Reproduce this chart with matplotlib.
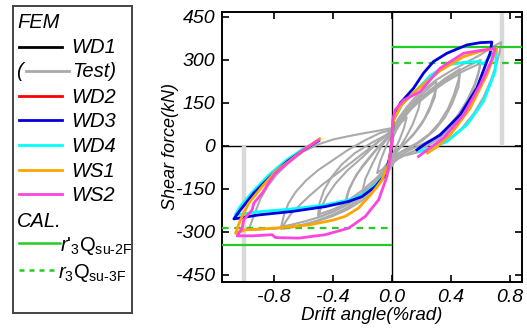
import matplotlib
matplotlib.use("Agg")
import matplotlib.pyplot as plt

plt.rcParams['font.family'] = ['Liberation Sans', 'DejaVu Sans']
plt.rcParams['mathtext.fontset'] = 'custom'
plt.rcParams['mathtext.rm'] = 'Liberation Sans'
plt.rcParams['mathtext.it'] = 'Liberation Sans:italic'
plt.rcParams['axes.unicode_minus'] = False

# FEM analysis results (drift angle %rad, shear force kN)
wd3_drift = [-0.496, -0.597, -0.709, -0.822, -0.935, -1.025, -1.070, -0.901, -0.676, -0.451,
             -0.293, -0.203, -0.113, -0.045, -0.015, 0.0, 0.011, 0.056, 0.146, 0.214, 0.281,
             0.372, 0.507, 0.597, 0.676, 0.664, 0.642, 0.574, 0.461, 0.326, 0.214, 0.169]
wd3_shear = [18, -14, -55, -107, -165, -223, -255, -241, -229, -212,
             -194, -177, -142, -101, -40, 20, 91, 149, 201, 254, 294,
             323, 352, 360, 362, 323, 294, 201, 108, 38, 3, -14]

wd4_drift = [-0.505, -0.605, -0.715, -0.830, -0.942, -1.032, -1.060, -0.901, -0.676, -0.451,
             -0.270, -0.190, -0.110, -0.045, -0.015, 0.0, 0.011, 0.070, 0.146, 0.214, 0.259,
             0.372, 0.484, 0.585, 0.620, 0.660, 0.709, 0.698, 0.619, 0.507, 0.372, 0.250, 0.180]
wd4_shear = [15, -12, -50, -100, -160, -215, -241, -230, -220, -206,
             -186, -168, -135, -98, -40, 20, 91, 145, 184, 220, 245,
             282, 291, 294, 285, 310, 340, 259, 155, 73, 15, -10, -20]

ws1_drift = [-0.489, -0.590, -0.700, -0.789, -0.878, -0.969, -1.025, -1.059, -0.991, -0.789,
             -0.564, -0.405, -0.316, -0.226, -0.135, -0.068, -0.020, 0.0, 0.011, 0.060, 0.146,
             0.214, 0.326, 0.484, 0.600, 0.709, 0.642, 0.529, 0.394, 0.300, 0.240]
ws1_shear = [25, -10, -55, -90, -142, -200, -258, -305, -293, -287,
             -276, -260, -246, -217, -165, -119, -60, 20, 90, 140, 185,
             215, 262, 311, 330, 340, 248, 131, 38, -5, -25]

ws2_drift = [-0.496, -0.597, -0.709, -0.789, -0.822, -0.878, -0.935, -0.946, -1.003, -1.014,
             -1.047, -0.946, -0.811, -0.789, -0.631, -0.451, -0.293, -0.180, -0.090, -0.034,
             -0.011, 0.0, 0.005, 0.022, 0.080, 0.191, 0.326, 0.484, 0.600, 0.698, 0.676, 0.597,
             0.484, 0.349, 0.250, 0.180]
ws2_shear = [20, -14, -61, -95, -119, -165, -200, -223, -258, -287,
             -314, -314, -310, -320, -322, -310, -287, -246, -188, -107,
             -37, 20, 91, 126, 160, 189, 271, 323, 333, 340, 300, 213,
             108, 27, -10, -37]

# test hysteresis, one sublist per cycle
test_drift = [
    [0, 0.03, 0.06, 0.1, 0.08, 0.05, 0.02, 0, -0.03, -0.06, -0.1, -0.08, -0.05, -0.02, 0],
    [0, 0.05, 0.1, 0.15, 0.2, 0.18, 0.14, 0.09, 0.04, 0, -0.05, -0.1, -0.15, -0.2,
     -0.18, -0.13, -0.07, 0],
    [0, 0.05, 0.1, 0.15, 0.2, 0.3, 0.29, 0.26, 0.22, 0.16, 0.1, 0.04, 0, -0.05, -0.1, -0.2,
     -0.32, -0.3, -0.26, -0.2, -0.12, -0.05, 0],
    [0, 0.05, 0.1, 0.15, 0.2, 0.3, 0.29, 0.25, 0.2, 0.14, 0.08, 0.02, 0, -0.05, -0.1, -0.2,
     -0.31, -0.29, -0.24, -0.17, -0.1, -0.04, 0],
    [0, 0.05, 0.1, 0.18, 0.26, 0.36, 0.46, 0.45, 0.42, 0.38, 0.32, 0.25, 0.17, 0.08, 0.02, 0,
     -0.05, -0.1, -0.2, -0.3, -0.4, -0.5, -0.48, -0.44, -0.38, -0.3, -0.2, -0.1, 0],
    [0, 0.05, 0.1, 0.18, 0.26, 0.36, 0.46, 0.45, 0.41, 0.36, 0.29, 0.21, 0.13, 0.05, 0,
     -0.05, -0.1, -0.2, -0.3, -0.4, -0.5, -0.49, -0.46, -0.41, -0.34, -0.25, -0.14, -0.05, 0],
    [0, 0.05, 0.1, 0.2, 0.3, 0.4, 0.5, 0.6, 0.59, 0.56, 0.51, 0.45, 0.38, 0.3, 0.2, 0.1,
     0.03, 0, -0.05, -0.1, -0.2, -0.3, -0.4, -0.5, -0.6, -0.68, -0.75, -0.72, -0.68, -0.62,
     -0.56, -0.47, -0.38, -0.28, -0.18, -0.08, 0],
    [0, 0.05, 0.1, 0.2, 0.3, 0.4, 0.5, 0.6, 0.58, 0.54, 0.48, 0.41, 0.33, 0.24, 0.14, 0.06,
     0, -0.05, -0.1, -0.2, -0.3, -0.4, -0.5, -0.6, -0.68, -0.75, -0.73, -0.7, -0.65, -0.58,
     -0.5, -0.4, -0.3, -0.18, -0.08, 0],
    [0, 0.05, 0.1, 0.15, 0.2, 0.3, 0.4, 0.5, 0.6, 0.68, 0.74, 0.73, 0.71, 0.67, 0.62, 0.55,
     0.47, 0.38, 0.28, 0.18, 0.08, 0.02, 0, -0.05, -0.1, -0.2, -0.3, -0.4, -0.5, -0.6, -0.7,
     -0.8, -0.9, -0.97, -0.95, -0.92, -0.89, -0.84, -0.78, -0.7, -0.6, -0.5, -0.4, -0.3,
     -0.2, -0.1, 0],
]
test_shear = [
    [20, 55, 80, 100, 60, 20, -15, -35, -60, -80, -95, -55, -15, 20, 40],
    [40, 90, 125, 155, 180, 130, 75, 25, -15, -45, -90, -120, -145, -160, -115, -60, 0, 45],
    [50, 85, 120, 150, 180, 225, 185, 140, 95, 50, 15, -15, -45, -90, -120, -165, -205,
     -165, -120, -70, -20, 20, 45],
    [45, 80, 110, 140, 168, 210, 170, 120, 75, 35, 5, -20, -40, -80, -110, -155, -195,
     -150, -100, -55, -10, 25, 45],
    [55, 90, 120, 160, 195, 235, 268, 230, 180, 130, 80, 40, 10, -15, -35, -60, -100, -130,
     -170, -205, -230, -250, -215, -175, -130, -85, -40, 10, 55],
    [52, 85, 115, 152, 185, 222, 252, 205, 150, 100, 55, 20, -5, -25, -55, -95, -125, -165,
     -198, -222, -240, -200, -155, -110, -65, -25, 10, 35, 52],
    [58, 95, 125, 170, 210, 245, 275, 300, 265, 215, 160, 110, 65, 30, 5, -20, -40, -65,
     -105, -135, -180, -215, -240, -260, -275, -285, -290, -265, -235, -205, -175, -135,
     -100, -60, -20, 20, 50],
    [56, 92, 122, 165, 203, 238, 265, 288, 240, 180, 120, 70, 30, 0, -20, -38, -62, -100,
     -130, -172, -205, -230, -250, -265, -275, -282, -240, -200, -160, -120, -85, -50, -15,
     20, 45, 56],
    [60, 100, 135, 165, 190, 230, 262, 290, 318, 345, 362, 330, 290, 230, 170, 110, 60, 20,
     -5, -22, -35, -50, -70, -110, -145, -190, -222, -245, -262, -275, -284, -289, -292,
     -293, -265, -225, -185, -140, -100, -60, -20, 5, 22, 33, 43, 52, 62],
]

# calculated strengths and test maximum drifts
q_su_2f = 345
q_su_3f = 288
test_max_drift = [0.743, -0.998]

x_min, x_max = -1.15, 0.88
y_min, y_max = -475, 467

fig = plt.figure(figsize=(5.27, 3.33), dpi=100)
ax = fig.add_axes([0.4213, 0.1532, 0.5692, 0.8108])

for xs, ys in zip(test_drift, test_shear):
    ax.plot(xs, ys, color='#aaaaaa', lw=1.5, zorder=2)

ax.axhline(0, color='black', lw=1.0, zorder=1)
ax.axvline(0, color='black', lw=1.0, zorder=1)

ax.vlines(test_max_drift[0], 0, y_max, color='#d9d9d9', lw=3.2, zorder=1.5)
ax.vlines(test_max_drift[1], y_min, 0, color='#d9d9d9', lw=3.2, zorder=1.5)

ax.hlines(q_su_2f, 0, x_max, color='#22cc22', lw=1.6, zorder=3)
ax.hlines(-q_su_2f, x_min, 0, color='#22cc22', lw=1.6, zorder=3)
ax.hlines(q_su_3f, 0, x_max, color='#22cc22', lw=1.6, ls=(0, (3, 2.5)), zorder=3)
ax.hlines(-q_su_3f, x_min, 0, color='#22cc22', lw=1.6, ls=(0, (3, 2.5)), zorder=3)

ax.plot(wd4_drift, wd4_shear, color='cyan', lw=2.0, zorder=4)
ax.plot(wd3_drift, wd3_shear, color='#0000dd', lw=2.0, zorder=5)
ax.plot(ws1_drift, ws1_shear, color='orange', lw=2.0, zorder=6)
ax.plot(ws2_drift, ws2_shear, color='#ff44dd', lw=2.0, zorder=7)

ax.set_xlim(x_min, x_max)
ax.set_ylim(y_min, y_max)
ax.set_xticks([-0.8, -0.4, 0.0, 0.4, 0.8])
ax.set_xticklabels(['-0.8', '-0.4', '0.0', '0.4', '0.8'])
ax.set_yticks([-450, -300, -150, 0, 150, 300, 450])
ax.tick_params(direction='in', top=True, right=True, length=5, width=1.2,
               labelsize=14, pad=5)
for lab in ax.get_xticklabels() + ax.get_yticklabels():
    lab.set_fontstyle('italic')
for sp in ax.spines.values():
    sp.set_linewidth(1.4)
ax.set_xlabel('Drift angle(%rad)', fontsize=13.5, style='italic', labelpad=1)
ax.set_ylabel('Shear force(kN)', fontsize=13, style='italic', labelpad=-2)

# legend panel
lg = fig.add_axes([0.0247, 0.06, 0.2258, 0.922])
lg.set_xlim(0, 119)
lg.set_ylim(307, 0)
lg.set_xticks([])
lg.set_yticks([])
for sp in lg.spines.values():
    sp.set_linewidth(1.4)
    sp.set_color('#444444')

fs = 14.5
lg.text(4, 17, 'FEM', fontsize=fs, style='italic', va='center')
entries = [('WD1', 'black', 41), ('WD2', 'red', 90), ('WD3', '#0000dd', 114),
           ('WD4', 'cyan', 139), ('WS1', 'orange', 164), ('WS2', '#ff44dd', 188)]
for name, col, yy in entries:
    lg.plot([6, 49], [yy, yy], color=col, lw=2.0)
    lg.text(58, yy + 1, name, fontsize=fs, style='italic', va='center')
lg.text(3, 66, '(', fontsize=fs, style='italic', va='center')
lg.plot([13, 56], [65, 65], color='#aaaaaa', lw=2.0)
lg.text(59, 66, 'Test)', fontsize=fs, style='italic', va='center')
lg.text(4, 215, 'CAL.', fontsize=fs, style='italic', va='center')
lg.plot([6, 47], [237, 237], color='#22cc22', lw=1.8)
lg.text(47, 240, r"$\mathit{r}$'$_{3}$Q$_{\mathrm{su\text{-}2F}}$", fontsize=fs, va='center')
lg.plot([6, 44], [264, 264], color='#22cc22', lw=1.8, ls=(0, (2, 2)))
lg.text(45, 267, r"$\mathit{r}_{3}$Q$_{\mathrm{su\text{-}3F}}$", fontsize=fs, va='center')

fig.savefig('out.png', dpi=100)
